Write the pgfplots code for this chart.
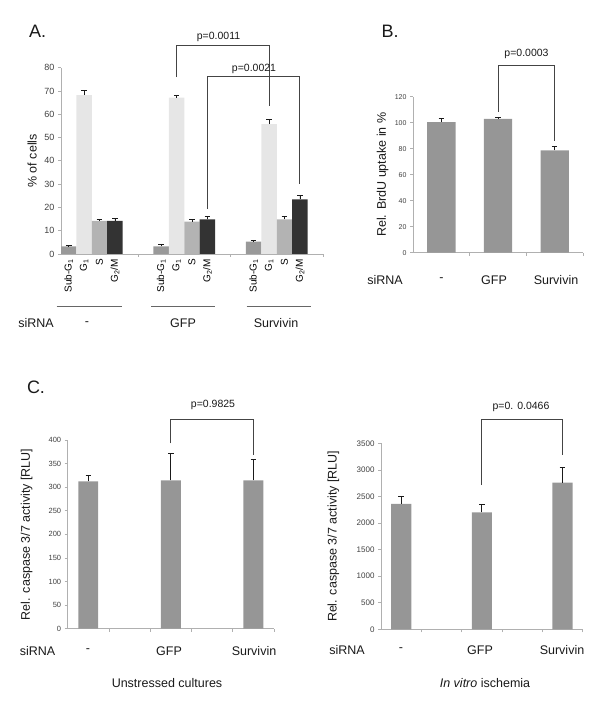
\documentclass[border=0pt]{standalone}
\usepackage{fontspec}
\setmainfont{Liberation Sans}
\usepackage{pgfplots}
\usepackage{pgfplotstable}
\pgfplotsset{compat=1.18}

\definecolor{cSub}{HTML}{999999}
\definecolor{cG1}{HTML}{E6E6E6}
\definecolor{cS}{HTML}{B3B3B3}
\definecolor{cG2}{HTML}{333333}
\definecolor{cBar}{HTML}{969696}
\definecolor{axisgray}{HTML}{B0B0B0}
\definecolor{tickgray}{HTML}{404040}
\definecolor{errc}{HTML}{1A1A1A}
\definecolor{brkc}{HTML}{444444}

% Panel A tables: x value error
\pgfplotstableread{
x y e
0 3.3 0.3
6 3.3 1.0
12 5.3 0.5
}\tSub
\pgfplotstableread{
x y e
1 68.2 2.2
7 67.2 1.0
13 55.8 1.8
}\tGone
\pgfplotstableread{
x y e
2 14.2 0.7
8 13.9 1.1
14 14.9 1.1
}\tS
\pgfplotstableread{
x y e
3 14.2 1.0
9 14.9 1.2
15 23.4 1.8
}\tGtwo
% Panel B
\pgfplotstableread{
x y e
0 100.5 2.8
1 103.0 1.4
2 78.7 2.8
}\tB
% Panel C left
\pgfplotstableread{
x y e
0 312.5 13.5
2 314.5 57
4 314.5 44.5
}\tCl
% Panel C right
\pgfplotstableread{
x y e
0 2358 144
2 2201 157
4 2759 289
}\tCr

\pgfplotsset{
  panel/.style={
    scale only axis, anchor=south west,
    axis lines*=left,
    axis line style={draw=axisgray, line width=0.7pt},
    tick style={draw=axisgray, line width=0.7pt},
    major tick length=3pt, tick align=outside,
    ymin=0, clip=false,
    scaled y ticks=false,
    /pgf/number format/assume math mode=true,
    /pgf/number format/1000 sep={},
    yticklabel style={text=tickgray},
    xticklabels={},
    ylabel style={font=\fontsize{12.5}{14}\selectfont, anchor=center, text=black!90},
  },
  errs/.style={
    error bars/.cd, y dir=plus, y explicit,
    error bar style={draw=errc, line width=0.75pt},
    error mark=|,
    error mark options={draw=errc, line width=0.75pt, mark size=2.8pt},
  },
}
\tikzset{
  brk/.style={draw=brkc, line width=0.8pt},
  rl/.style={rotate=90, anchor=east, inner sep=0pt, font=\fontsize{10}{11}\selectfont},
}

\begin{document}
\begin{tikzpicture}
\useasboundingbox (0,0) rectangle (600pt,708pt);

% ---------- Panel A ----------
\begin{axis}[panel,
  at={(61pt,454pt)}, width=262pt, height=186.3pt,
  xmin=-0.5, xmax=16.5, ymax=80,
  xtick={4.5,10.5,16.5},
  ytick={0,10,...,80},
  yticklabel style={font=\fontsize{9}{10}\selectfont},
  ylabel={\% of cells},
  ylabel style={at={(axis description cs:-0.11,0.5)}},
]
\addplot[ybar, bar width=1, bar shift=0pt, fill=cSub, draw=none, errs] table[x=x,y=y,y error=e] {\tSub};
\addplot[ybar, bar width=1, bar shift=0pt, fill=cG1, draw=none, errs] table[x=x,y=y,y error=e] {\tGone};
\addplot[ybar, bar width=1, bar shift=0pt, fill=cS, draw=none, errs] table[x=x,y=y,y error=e] {\tS};
\addplot[ybar, bar width=1, bar shift=0pt, fill=cG2, draw=none, errs] table[x=x,y=y,y error=e] {\tGtwo};
\draw[brk] (axis cs:7,76) |- (axis cs:13,89.7) -- (axis cs:13,63.6);
\draw[brk] (axis cs:9,19.3) |- (axis cs:15,76.1) -- (axis cs:15,30);
\node[rl] at ([yshift=-5pt]axis cs:0,0) {Sub-G\textsubscript{1}};
\node[rl] at ([yshift=-5pt]axis cs:1,0) {G\textsubscript{1}};
\node[rl] at ([yshift=-5pt]axis cs:2,0) {S};
\node[rl] at ([yshift=-5pt]axis cs:3,0) {G\textsubscript{2}/M};
\node[rl] at ([yshift=-5pt]axis cs:6,0) {Sub-G\textsubscript{1}};
\node[rl] at ([yshift=-5pt]axis cs:7,0) {G\textsubscript{1}};
\node[rl] at ([yshift=-5pt]axis cs:8,0) {S};
\node[rl] at ([yshift=-5pt]axis cs:9,0) {G\textsubscript{2}/M};
\node[rl] at ([yshift=-5pt]axis cs:12,0) {Sub-G\textsubscript{1}};
\node[rl] at ([yshift=-5pt]axis cs:13,0) {G\textsubscript{1}};
\node[rl] at ([yshift=-5pt]axis cs:14,0) {S};
\node[rl] at ([yshift=-5pt]axis cs:15,0) {G\textsubscript{2}/M};
\end{axis}

% ---------- Panel B ----------
\begin{axis}[panel,
  at={(413pt,455.3pt)}, width=170pt, height=156pt,
  xmin=-0.5, xmax=2.5, ymax=120,
  xtick={0.5,1.5,2.5},
  ytick={0,20,...,120},
  yticklabel style={font=\fontsize{7}{8}\selectfont},
  ylabel={Rel. BrdU uptake in \%},
  ylabel style={at={(axis description cs:-0.178,0.5)}},
]
\addplot[ybar, bar width=0.5, bar shift=0pt, fill=cBar, draw=none, errs] table[x=x,y=y,y error=e] {\tB};
\draw[brk] (axis cs:1,108.4) |- (axis cs:2,144.2) -- (axis cs:2,85.6);
\end{axis}

% ---------- Panel C left ----------
\begin{axis}[panel,
  at={(67.7pt,79.3pt)}, width=206.3pt, height=188.7pt,
  xmin=-0.5, xmax=4.5, ymax=400,
  xtick={0.5,1.5,2.5,3.5,4.5},
  ytick={0,50,...,400},
  yticklabel style={font=\fontsize{7.5}{8.5}\selectfont},
  ylabel={Rel. caspase 3/7 activity [RLU]},
  ylabel style={at={(axis description cs:-0.199,0.5)}},
]
\addplot[ybar, bar width=0.48, bar shift=0pt, fill=cBar, draw=none, errs] table[x=x,y=y,y error=e] {\tCl};
\draw[brk] (axis cs:2,393) |- (axis cs:4,444) -- (axis cs:4,368);
\end{axis}

% ---------- Panel C right ----------
\begin{axis}[panel,
  at={(381pt,78.7pt)}, width=201.7pt, height=186pt,
  xmin=-0.5, xmax=4.5, ymax=3500,
  xtick={0.5,1.5,2.5,3.5,4.5},
  ytick={0,500,...,3500},
  yticklabel style={font=\fontsize{8}{9}\selectfont},
  ylabel={Rel. caspase 3/7 activity [RLU]},
  ylabel style={at={(axis description cs:-0.236,0.5)}},
]
\addplot[ybar, bar width=0.5, bar shift=0pt, fill=cBar, draw=none, errs] table[x=x,y=y,y error=e] {\tCr};
\draw[brk] (axis cs:2,2715) |- (axis cs:4,3952) -- (axis cs:4,3280);
\end{axis}

% ---------- Texts ----------
\begin{scope}[every node/.style={inner sep=0pt, text=black!90}]
\node[font=\fontsize{18}{20}\selectfont] at (37.7pt,676.3pt) {A.};
\node[font=\fontsize{18}{20}\selectfont] at (390pt,676.3pt) {B.};
\node[font=\fontsize{18}{20}\selectfont] at (36pt,321pt) {C.};

\node[font=\fontsize{10.5}{12}\selectfont] at (218.5pt,671.3pt) {p=0.0011};
\node[font=\fontsize{10.5}{12}\selectfont] at (254pt,639pt) {p=0.0021};
\node[font=\fontsize{10.5}{12}\selectfont] at (526.5pt,654pt) {p=0.0003};
\node[font=\fontsize{10.5}{12}\selectfont] at (213pt,303pt) {p=0.9825};
\node[font=\fontsize{10.5}{12}\selectfont] at (521pt,301.3pt) {p=0. 0.0466};

% Panel A group labels
\draw[draw=black!60, line width=1.1pt] (56.7pt,401.3pt) -- (121.7pt,401.3pt);
\draw[draw=black!60, line width=1.1pt] (151pt,401.3pt) -- (215pt,401.3pt);
\draw[draw=black!60, line width=1.1pt] (246.7pt,401.3pt) -- (310.7pt,401.3pt);
\node[font=\fontsize{12.5}{14}\selectfont] at (36pt,384.5pt) {siRNA};
\node[font=\fontsize{12.5}{14}\selectfont] at (87pt,384.5pt) {-};
\node[font=\fontsize{12.5}{14}\selectfont] at (183pt,384.5pt) {GFP};
\node[font=\fontsize{12.5}{14}\selectfont] at (276pt,384.5pt) {Survivin};

% Panel B labels
\node[font=\fontsize{12.5}{14}\selectfont] at (385pt,428pt) {siRNA};
\node[font=\fontsize{12.5}{14}\selectfont] at (441.5pt,428pt) {-};
\node[font=\fontsize{12.5}{14}\selectfont] at (494pt,428pt) {GFP};
\node[font=\fontsize{12.5}{14}\selectfont] at (556pt,428pt) {Survivin};

% Panel C left labels
\node[font=\fontsize{12.5}{14}\selectfont] at (37.5pt,57.3pt) {siRNA};
\node[font=\fontsize{12.5}{14}\selectfont] at (88pt,57.3pt) {-};
\node[font=\fontsize{12.5}{14}\selectfont] at (169pt,57.3pt) {GFP};
\node[font=\fontsize{12.5}{14}\selectfont] at (254pt,57.3pt) {Survivin};
\node[font=\fontsize{12.5}{14}\selectfont] at (167pt,25.3pt) {Unstressed cultures};

% Panel C right labels
\node[font=\fontsize{12.5}{14}\selectfont] at (347pt,58pt) {siRNA};
\node[font=\fontsize{12.5}{14}\selectfont] at (401pt,58pt) {-};
\node[font=\fontsize{12.5}{14}\selectfont] at (480pt,58pt) {GFP};
\node[font=\fontsize{12.5}{14}\selectfont] at (562pt,58pt) {Survivin};
\node[font=\fontsize{12.5}{14}\selectfont] at (485pt,25.3pt) {\textit{In vitro} ischemia};
\end{scope}
\end{tikzpicture}
\end{document}
